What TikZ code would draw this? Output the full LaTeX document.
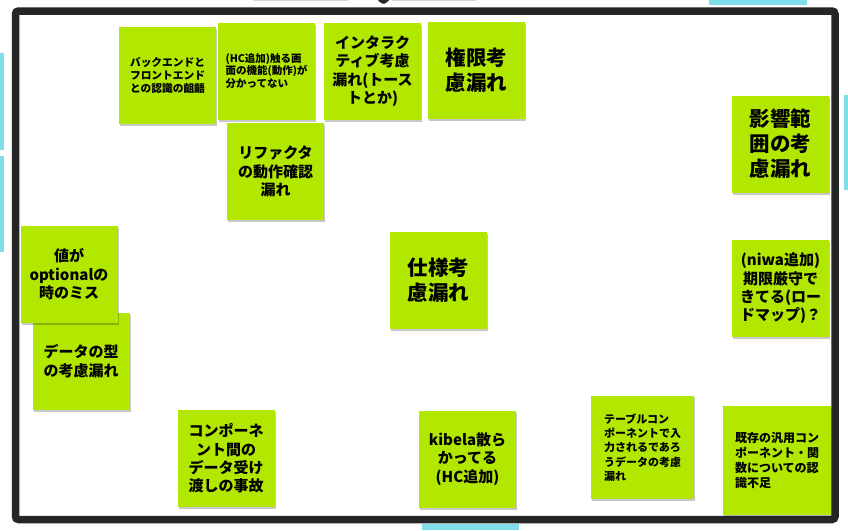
\documentclass[tikz,border=0pt]{standalone}
\usepackage{fontspec}
\setmainfont{Noto Sans CJK JP}
\usetikzlibrary{shadows}
\definecolor{stickygreen}{RGB}{178,231,0}
\definecolor{tapecyan}{RGB}{128,222,234}
\definecolor{framedark}{RGB}{38,38,38}
\newcommand{\bigtxt}{\fontsize{20.5}{25}\selectfont\bfseries}
\newcommand{\midtxt}{\fontsize{15}{18.4}\selectfont\bfseries}
\tikzset{
  sticky/.style={fill=stickygreen, inner sep=0pt, minimum width=97pt, minimum height=97pt,
    drop shadow={shadow xshift=1.2pt, shadow yshift=-2pt, opacity=0.22, fill=black},
    align=center, text=black},
  tape/.style={fill=tapecyan, draw=none},
  board/.style={draw=framedark, line width=7.5pt, rounded corners=3pt}
}
\begin{document}
\begin{tikzpicture}[x=1pt,y=-1pt]
\useasboundingbox (0,0) rectangle (848,530);
\fill[white] (0,0) rectangle (848,530);
% cyan pieces outside the board
\fill[tape] (0,53) rectangle (4,150);
\fill[tape] (0,156) rectangle (4,252);
\fill[tape] (709,0) rectangle (807,5);
\fill[tape] (844,95) rectangle (848,190);
\fill[tape] (422,524) rectangle (519,530);
% faint top edges and pointer
\draw[black!15, line width=0.8pt] (253,0.6) -- (348,0.6);
\draw[black!15, line width=0.8pt] (392,0.6) -- (476,0.6);
\fill[framedark, rounded corners=1.5pt] (377,0) -- (390,0) -- (383.5,4.5) -- cycle;
% board frame
\draw[board] (15.5,11) rectangle (835,519.5);
% stickies
\node[sticky, font=\fontsize{10.7}{13.3}\selectfont\bfseries] (s1) at (167.5,75.5) {バックエンドと\\フロントエンド\\との認識の齟齬};
\node[sticky, align=left, font=\fontsize{10.5}{12.6}\selectfont\bfseries] (s2) at (266.5,71) {(HC追加)触る画\\面の機能(動作)が\\分かってない};
\node[sticky, font=\midtxt] (s3) at (372.5,71) {インタラク\\ティブ考慮\\漏れ(トース\\トとか)};
\node[sticky, font=\bigtxt] (s4) at (476.5,70) {権限考\\慮漏れ};
\node[sticky, font=\midtxt] (s5) at (275.5,171.5) {リファクタ\\の動作確認\\漏れ};
\node[sticky, font=\bigtxt] (s6) at (780.5,144) {影響範\\囲の考\\慮漏れ};
\node[sticky, font=\midtxt] (s8) at (81,361) {データの型\\の考慮漏れ};
\node[sticky, font=\midtxt] (s7) at (69,274.5) {値が\\optionalの\\時のミス};
\node[sticky, font=\bigtxt] (s9) at (438.5,280.5) {仕様考\\慮漏れ};
\node[sticky, font=\midtxt] (s10) at (780.5,288.5) {(niwa追加)\\期限厳守で\\きてる(ロー\\ドマップ)？};
\node[sticky, font=\midtxt] (s11) at (226,458.5) {コンポーネ\\ント間の\\データ受け\\渡しの事故};
\node[sticky, font=\midtxt] (s12) at (467.5,459) {kibela散ら\\かってる\\(HC追加)};
\node[sticky, align=left, minimum width=103pt, minimum height=103pt, font=\fontsize{11}{14.3}\selectfont\bfseries] (s13) at (642.5,447.5) {テーブルコン\\ポーネントで入\\力されるであろ\\うデータの考慮\\漏れ};
\node[sticky, align=left, minimum width=108pt, minimum height=109pt, font=\fontsize{12}{15}\selectfont\bfseries] (s14) at (777,460.5) {既存の汎用コン\\ポーネント・関\\数についての認\\識不足};
\end{tikzpicture}
\end{document}
